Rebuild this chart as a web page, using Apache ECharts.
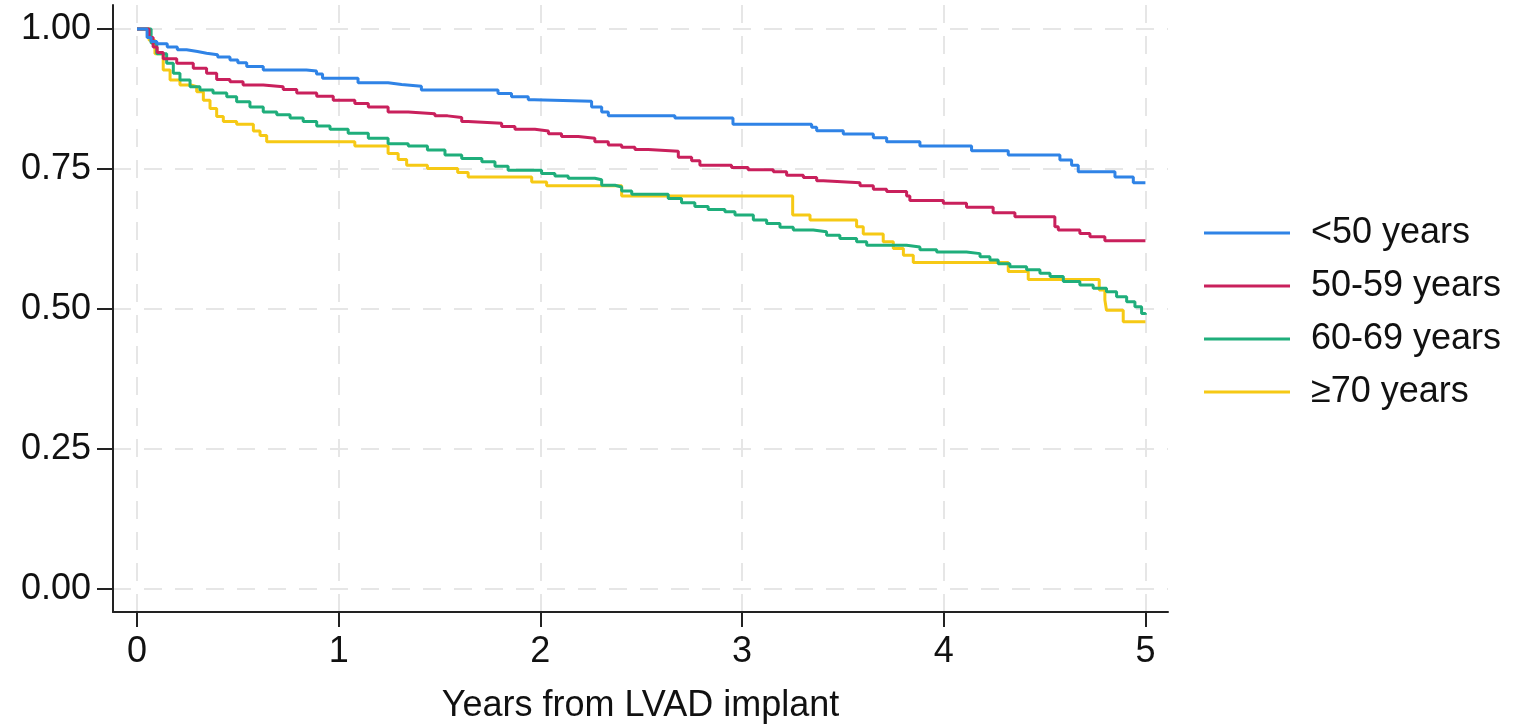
<!DOCTYPE html>
<html>
<head>
<meta charset="utf-8">
<script src="https://cdn.jsdelivr.net/npm/echarts@6/dist/echarts.min.js"></script>
<style>
html,body{margin:0;padding:0;background:#fff;}
#chart{width:1515px;height:725px;}
</style>
</head>
<body>
<div id="chart"></div>
<script>
// ---- Data (Kaplan-Meier estimates) ----
const seriesNames = ['<50 years', '50-59 years', '60-69 years', '\u226570 years'];
const xTicks = [0, 1, 2, 3, 4, 5];
const yTicks = [0, 0.25, 0.5, 0.75, 1];
const xTitle = 'Years from LVAD implant';

// [years, survival]
const survUnder50 = [[0,1],[0.04,1],[0.05,0.985],[0.07,0.978],[0.098,0.974],[0.15,0.968],[0.2,0.963],[0.246,0.96],[0.3,0.957],[0.345,0.954],[0.4,0.95],[0.461,0.945],[0.5,0.94],[0.544,0.933],[0.626,0.927],[0.84,0.925],[0.89,0.92],[0.92,0.912],[1.096,0.904],[1.245,0.901],[1.312,0.898],[1.41,0.891],[1.79,0.885],[1.857,0.879],[1.94,0.874],[1.97,0.871],[2.254,0.861],[2.304,0.852],[2.337,0.845],[2.667,0.841],[2.955,0.83],[3.345,0.8245],[3.37,0.8185],[3.502,0.8125],[3.651,0.806],[3.717,0.799],[3.882,0.791],[4.138,0.7825],[4.32,0.775],[4.576,0.766],[4.634,0.757],[4.667,0.745],[4.849,0.736],[4.94,0.7255],[5,0.7255]];
const surv50to59 = [[0,1],[0.04,1],[0.06,0.985],[0.08,0.968],[0.1,0.958],[0.13,0.947],[0.197,0.939],[0.279,0.93],[0.345,0.921],[0.395,0.91],[0.461,0.906],[0.526,0.9],[0.626,0.897],[0.725,0.892],[0.792,0.886],[0.891,0.88],[0.973,0.873],[1.08,0.867],[1.147,0.861],[1.245,0.852],[1.345,0.849],[1.477,0.845],[1.54,0.842],[1.61,0.835],[1.642,0.832],[1.808,0.826],[1.874,0.821],[1.973,0.818],[2.04,0.813],[2.105,0.808],[2.188,0.805],[2.27,0.799],[2.337,0.793],[2.403,0.789],[2.469,0.785],[2.535,0.782],[2.684,0.771],[2.75,0.765],[2.791,0.757],[2.948,0.753],[3.03,0.749],[3.155,0.745],[3.221,0.739],[3.304,0.735],[3.37,0.729],[3.403,0.7255],[3.585,0.72],[3.651,0.714],[3.717,0.71],[3.816,0.702],[3.832,0.694],[3.998,0.689],[4.113,0.682],[4.245,0.672],[4.353,0.665],[4.551,0.647],[4.568,0.641],[4.675,0.635],[4.725,0.629],[4.799,0.622],[5,0.622]];
const surv60to69 = [[0,1],[0.04,1],[0.07,0.975],[0.098,0.956],[0.147,0.939],[0.18,0.921],[0.213,0.909],[0.263,0.897],[0.312,0.891],[0.377,0.886],[0.445,0.879],[0.494,0.87],[0.56,0.861],[0.626,0.852],[0.693,0.847],[0.759,0.841],[0.824,0.835],[0.891,0.827],[0.957,0.821],[1.047,0.814],[1.147,0.805],[1.245,0.795],[1.345,0.791],[1.44,0.784],[1.527,0.775],[1.61,0.769],[1.71,0.763],[1.775,0.755],[1.84,0.748],[2.006,0.742],[2.072,0.7375],[2.138,0.7335],[2.27,0.731],[2.304,0.721],[2.37,0.718],[2.403,0.711],[2.453,0.705],[2.634,0.6975],[2.7,0.69],[2.766,0.683],[2.832,0.678],[2.915,0.674],[2.965,0.668],[3.056,0.659],[3.122,0.653],[3.188,0.646],[3.254,0.641],[3.353,0.638],[3.419,0.632],[3.485,0.626],[3.568,0.62],[3.618,0.614],[3.816,0.611],[3.882,0.606],[3.965,0.602],[4.113,0.599],[4.18,0.5935],[4.229,0.5875],[4.27,0.581],[4.328,0.5755],[4.411,0.57],[4.477,0.564],[4.527,0.558],[4.593,0.549],[4.675,0.543],[4.741,0.537],[4.807,0.531],[4.857,0.522],[4.907,0.513],[4.948,0.504],[4.981,0.492],[5,0.49]];
const surv70plus = [[0,1],[0.04,1],[0.06,0.98],[0.089,0.956],[0.13,0.927],[0.164,0.909],[0.213,0.9],[0.271,0.897],[0.296,0.888],[0.329,0.873],[0.362,0.858],[0.395,0.844],[0.428,0.835],[0.494,0.83],[0.577,0.818],[0.61,0.81],[0.643,0.799],[1.08,0.791],[1.245,0.778],[1.295,0.767],[1.337,0.757],[1.44,0.751],[1.59,0.744],[1.642,0.736],[1.957,0.727],[2.031,0.72],[2.403,0.702],[3.251,0.668],[3.337,0.659],[3.568,0.647],[3.601,0.634],[3.7,0.62],[3.75,0.608],[3.8,0.596],[3.849,0.583],[4.32,0.567],[4.419,0.553],[4.771,0.534],[4.799,0.516],[4.807,0.498],[4.89,0.4775],[5,0.4775]];

const allSurv = [survUnder50, surv50to59, surv60to69, surv70plus];
const colors = ['#2f83e6', '#c9205c', '#1fae7b', '#f6c915'];

const FONT = 'Liberation Sans, Arial, Helvetica, sans-serif';
const chart = echarts.init(document.getElementById('chart'), null, {renderer: 'canvas'});
const gridStyle = {show: true, lineStyle: {color: '#e6e6e6', width: 2, type: [18, 13]}};

chart.setOption({
  animation: false,
  backgroundColor: '#ffffff',
  textStyle: {fontFamily: FONT},
  grid: {left: 113, right: 347, top: 5, bottom: 113, containLabel: false, outerBoundsMode: 'none'},
  xAxis: {
    type: 'value', min: -0.119, max: 5.112,
    name: xTitle, nameLocation: 'middle', nameGap: 76,
    nameTextStyle: {fontSize: 36, color: '#111', fontFamily: FONT},
    axisLine: {show: true, onZero: false, lineStyle: {color: '#222', width: 2}},
    axisTick: {show: true, length: 15, customValues: xTicks, lineStyle: {color: '#222', width: 2}},
    axisLabel: {customValues: xTicks, fontSize: 36, color: '#111', margin: 22, fontFamily: FONT},
    splitLine: gridStyle
  },
  yAxis: {
    type: 'value', min: -0.041, max: 1.043,
    axisLine: {show: true, onZero: false, lineStyle: {color: '#222', width: 2}},
    axisTick: {show: true, length: 16, customValues: yTicks, lineStyle: {color: '#222', width: 2}},
    axisLabel: {customValues: yTicks, fontSize: 36, color: '#111', margin: 22, fontFamily: FONT,
      formatter: v => v.toFixed(2)},
    splitLine: gridStyle
  },
  legend: {
    orient: 'vertical', left: 1199, top: 210,
    itemWidth: 86, itemHeight: 20, itemGap: 17,
    icon: 'path://M0,0 L86,0 L86,3 L0,3 Z',
    textStyle: {fontSize: 36, color: '#111', fontFamily: FONT, padding: [0, 0, 0, 16], lineHeight: 36},
    data: seriesNames
  },
  series: allSurv.map((d, i) => ({
    name: seriesNames[i], type: 'line', step: 'end', data: d,
    symbol: 'none', showSymbol: false,
    color: colors[i],
    lineStyle: {color: colors[i], width: 3},
    itemStyle: {color: colors[i]},
    z: 10 - i
  }))
});
</script>
</body>
</html>
